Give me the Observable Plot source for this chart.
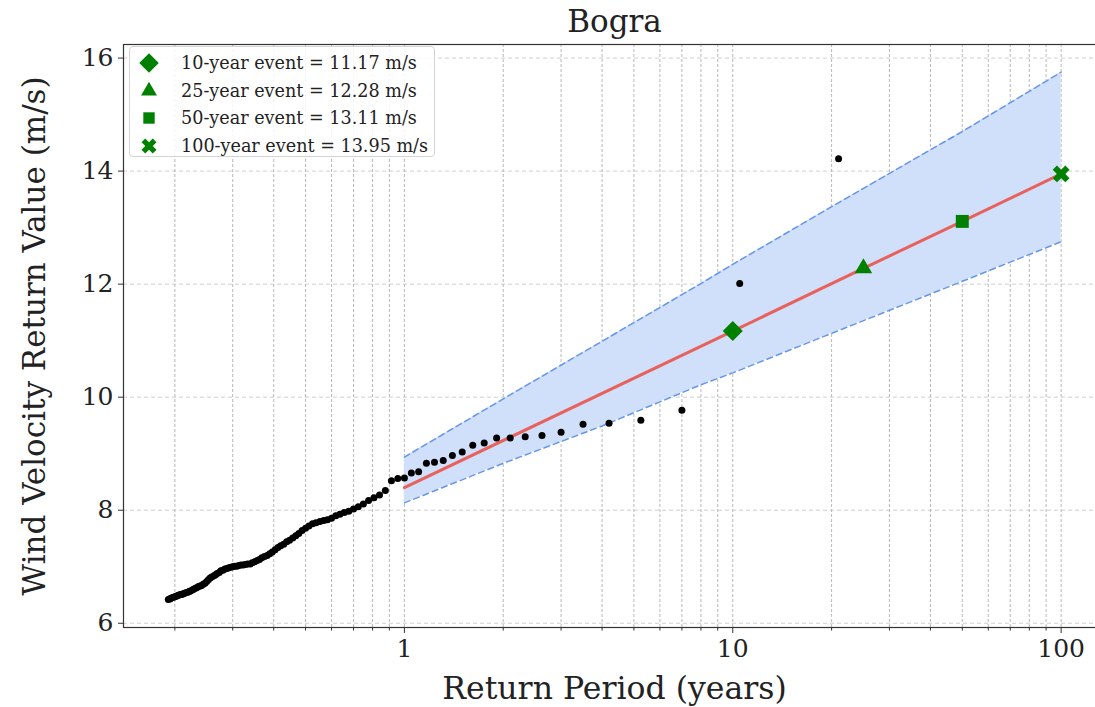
<!DOCTYPE html>
<html>
<head>
<meta charset="utf-8">
<script src="https://cdn.jsdelivr.net/npm/d3@7"></script>
<script src="https://cdn.jsdelivr.net/npm/@observablehq/plot@0.6"></script>
<style>
  body { margin: 0; background: #fff; }
  #wrap { position: relative; width: 1095px; height: 707px; overflow: hidden; font-family: "DejaVu Serif", serif; }
  #legend { position: absolute; left: 129px; top: 46px; width: 306px; height: 111px; box-sizing: border-box;
            border: 1px solid #d4d4d4; border-radius: 4px; background: rgba(255,255,255,0.85); }
  .row { position: absolute; left: 0; height: 24px; display: flex; align-items: center; }
  .row svg { width: 36px; height: 24px; }
  .row span { font-size: 17.6px; color: #222; margin-left: 15px; white-space: nowrap; }
</style>
</head>
<body>
<div id="wrap"></div>
<script>
// Observed wind maxima and their empirical return periods (years)
const returnPeriod = [
  0.191, 0.193, 0.194, 0.196, 0.198, 0.200, 0.202, 0.204, 0.206, 0.208,
  0.210, 0.212, 0.214, 0.216, 0.219, 0.221, 0.223, 0.226, 0.228, 0.231,
  0.233, 0.236, 0.239, 0.241, 0.244, 0.247, 0.250, 0.253, 0.256, 0.259,
  0.263, 0.266, 0.269, 0.273, 0.276, 0.280, 0.284, 0.288, 0.292, 0.296,
  0.300, 0.304, 0.309, 0.313, 0.318, 0.323, 0.328, 0.333, 0.339, 0.344,
  0.350, 0.356, 0.362, 0.368, 0.375, 0.382, 0.389, 0.396, 0.404, 0.412,
  0.420, 0.429, 0.438, 0.447, 0.457, 0.467, 0.477, 0.488, 0.500, 0.512,
  0.525, 0.538, 0.553, 0.568, 0.583, 0.600, 0.618, 0.636, 0.656, 0.677,
  0.700, 0.724, 0.750, 0.778, 0.808, 0.840, 0.875, 0.913, 0.955, 1.000,
  1.050, 1.105, 1.167, 1.235, 1.313, 1.400, 1.500, 1.615, 1.750, 1.909,
  2.100, 2.333, 2.625, 3.000, 3.500, 4.200, 5.250, 7.000, 10.50, 21.00
];
const windSpeed = [
  6.42, 6.43, 6.44, 6.45, 6.46, 6.47, 6.48, 6.49, 6.50, 6.51,
  6.51, 6.52, 6.53, 6.54, 6.55, 6.56, 6.57, 6.59, 6.60, 6.62,
  6.63, 6.65, 6.66, 6.67, 6.69, 6.71, 6.74, 6.77, 6.80, 6.82,
  6.84, 6.86, 6.88, 6.90, 6.93, 6.94, 6.96, 6.97, 6.98, 6.99,
  7.00, 7.01, 7.01, 7.02, 7.03, 7.03, 7.04, 7.05, 7.05, 7.07,
  7.09, 7.11, 7.13, 7.16, 7.18, 7.20, 7.23, 7.26, 7.30, 7.34,
  7.37, 7.40, 7.44, 7.47, 7.51, 7.55, 7.59, 7.64, 7.68, 7.72,
  7.76, 7.78, 7.80, 7.82, 7.83, 7.86, 7.90, 7.93, 7.96, 7.98,
  8.02, 8.06, 8.11, 8.17, 8.22, 8.27, 8.35, 8.52, 8.56, 8.57,
  8.66, 8.68, 8.83, 8.85, 8.88, 8.97, 9.03, 9.15, 9.19, 9.28,
  9.28, 9.30, 9.32, 9.38, 9.52, 9.54, 9.59, 9.77, 12.01, 14.22
];

// Fitted return-level curve
const fitPeriod = [1, 10, 25, 50, 100];
const fitSpeed = [8.40, 11.17, 12.28, 13.11, 13.95];

// Confidence band around the fit
const bandPeriod = [1, 2, 4, 8, 10, 20, 50, 100];
const bandLow = [8.13, 8.83, 9.49, 10.22, 10.43, 11.13, 12.05, 12.75];
const bandHigh = [8.94, 9.97, 10.99, 12.01, 12.35, 13.37, 14.70, 15.75];

// Design return levels
const eventPeriod = [10, 25, 50, 100];
const eventSpeed = [11.17, 12.28, 13.11, 13.95];
const eventLabel = [
  "10-year event = 11.17 m/s",
  "25-year event = 12.28 m/s",
  "50-year event = 13.11 m/s",
  "100-year event = 13.95 m/s"
];

// Axis ticks
const xMajorTicks = [1, 10, 100];
const xMinorTicks = [0.2, 0.3, 0.4, 0.5, 0.6, 0.7, 0.8, 0.9, 2, 3, 4, 5, 6, 7, 8, 9, 20, 30, 40, 50, 60, 70, 80, 90];
const yTicks = [6, 8, 10, 12, 14, 16];

const observed = returnPeriod.map((t, i) => ({t, v: windSpeed[i]}));
const fit = fitPeriod.map((t, i) => ({t, v: fitSpeed[i]}));
const band = bandPeriod.map((t, i) => ({t, lo: bandLow[i], hi: bandHigh[i]}));
const events = eventPeriod.map((t, i) => ({t, v: eventSpeed[i], label: eventLabel[i]}));

const green = "#008000";
const serif = "DejaVu Serif";

const chart = Plot.plot({
  width: 1095,
  height: 707,
  marginLeft: 123,
  marginTop: 44,
  marginBottom: 80,
  marginRight: -10,
  style: {fontFamily: serif, background: "white", color: "#222"},
  x: {type: "log", domain: [0.1395, 136.5]},
  y: {domain: [5.925, 16.24]},
  marks: [
    Plot.gridX(xMajorTicks.concat(xMinorTicks), {stroke: "#888", strokeOpacity: 0.6, strokeDasharray: "3,2"}),
    Plot.gridY(yTicks, {stroke: "#bbb", strokeOpacity: 0.7, strokeDasharray: "4,3"}),
    Plot.areaY(band, {x: "t", y1: "lo", y2: "hi", fill: "#d0dffa"}),
    Plot.line(band, {x: "t", y: "lo", stroke: "#6495ed", strokeWidth: 1.5, strokeDasharray: "6,4"}),
    Plot.line(band, {x: "t", y: "hi", stroke: "#6495ed", strokeWidth: 1.5, strokeDasharray: "6,4"}),
    Plot.line(fit, {x: "t", y: "v", stroke: "#e8625b", strokeWidth: 3}),
    Plot.dot(observed, {x: "t", y: "v", r: 3.5, fill: "black"}),
    Plot.dot(events.filter(d => d.t === 10), {x: "t", y: "v", symbol: "square", rotate: 45, r: 8, fill: green}),
    Plot.dot(events.filter(d => d.t === 25), {x: "t", y: "v", symbol: "triangle", r: 6.5, fill: green}),
    Plot.dot(events.filter(d => d.t === 50), {x: "t", y: "v", symbol: "square", r: 7.3, fill: green}),
    Plot.dot(events.filter(d => d.t === 100), {x: "t", y: "v", symbol: "cross", rotate: 45, r: 7.5, fill: green}),
    Plot.frame({stroke: "#333", strokeWidth: 1.2}),
    Plot.axisX(xMinorTicks, {tickSize: 3.5, tickFormat: () => "", stroke: "#333", label: null}),
    Plot.axisX(xMajorTicks, {tickSize: 6, tickPadding: 6, tickFormat: d3.format("d"), fontSize: 25, stroke: "#333", fill: "#222", label: null}),
    Plot.axisY(yTicks, {tickSize: 5, tickPadding: 5, tickFormat: d3.format("d"), fontSize: 25, stroke: "#333", fill: "#222", label: null}),
    Plot.text(["Bogra"], {frameAnchor: "top", dy: -22, fontSize: 31, fill: "#222", lineAnchor: "middle"}),
    Plot.text(["Return Period (years)"], {frameAnchor: "bottom", dy: 61, fontSize: 31.5, fill: "#222", lineAnchor: "middle"}),
    Plot.text(["Wind Velocity Return Value (m/s)"], {frameAnchor: "left", dx: -88, rotate: -90, fontSize: 31, fill: "#222", textAnchor: "middle", lineAnchor: "middle"})
  ]
});

const wrap = document.getElementById("wrap");
wrap.appendChild(chart);

// Legend box with one row per design event
const legend = document.createElement("div");
legend.id = "legend";
const shapes = [
  {type: d3.symbolSquare, size: 190, rotate: 45},
  {type: d3.symbolTriangle, size: 110, rotate: 0},
  {type: d3.symbolSquare, size: 130, rotate: 0},
  {type: d3.symbolCross, size: 140, rotate: 45}
];
events.forEach((d, i) => {
  const row = document.createElement("div");
  row.className = "row";
  row.style.top = (4 + i * 27.5) + "px";
  const svg = d3.create("svg");
  svg.append("path")
    .attr("d", d3.symbol(shapes[i].type, shapes[i].size)())
    .attr("transform", `translate(19,12) rotate(${shapes[i].rotate})`)
    .attr("fill", green);
  row.appendChild(svg.node());
  const span = document.createElement("span");
  span.textContent = d.label;
  row.appendChild(span);
  legend.appendChild(row);
});
wrap.appendChild(legend);
</script>
</body>
</html>
